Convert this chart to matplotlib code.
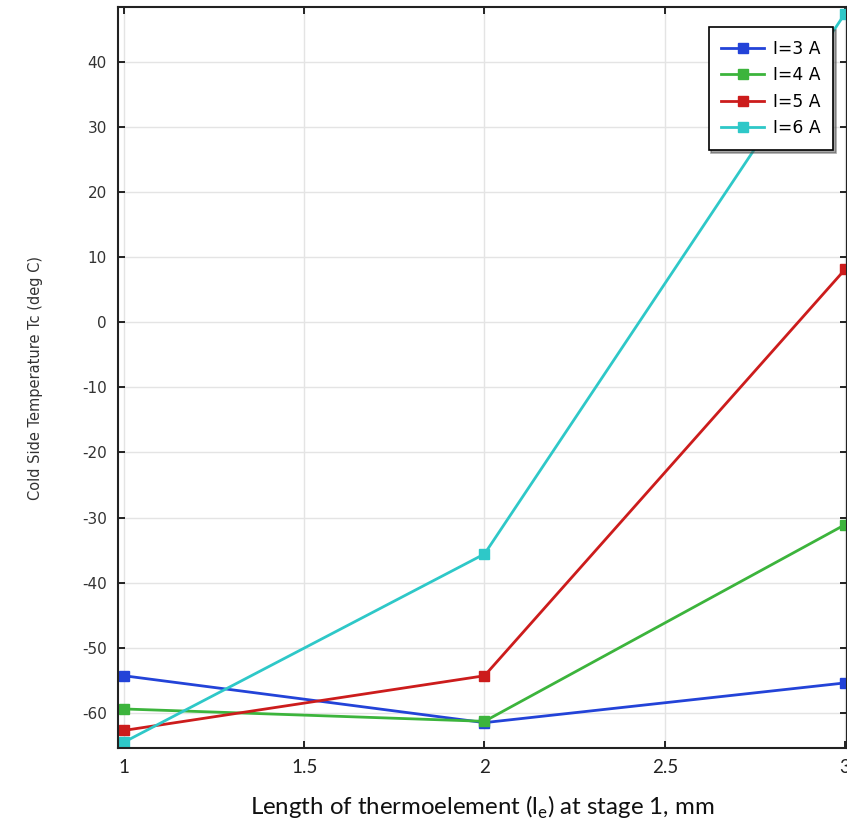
import matplotlib
matplotlib.use('Agg')
import matplotlib.pyplot as plt
import numpy as np

plt.rcParams['font.family'] = ['DejaVu Sans']
plt.rcParams['axes.unicode_minus'] = False

# lengths of thermoelement at stage 1 (mm)
length = [1, 2, 3]

# cold side temperature (deg C) for each current
tc_3A = [-54.3, -61.5, -55.4]
tc_4A = [-59.4, -61.3, -31.1]
tc_5A = [-62.7, -54.3, 8.1]
tc_6A = [-64.5, -35.6, 47.4]

labels = ['I=3 A', 'I=4 A', 'I=5 A', 'I=6 A']
colors = ['#2343d8', '#3cb43c', '#cc1c1c', '#2ec8c8']

xticks = [1, 1.5, 2, 2.5, 3]
xticklabels = ['1', '1.5', '2', '2.5', '3']
yticks = [-60, -50, -40, -30, -20, -10, 0, 10, 20, 30, 40]

fig = plt.figure(figsize=(8.47, 8.24), dpi=100)
ax = fig.add_axes([0.1393, 0.0922, 0.8607, 0.8993])

for ys, lab, c in zip([tc_3A, tc_4A, tc_5A, tc_6A], labels, colors):
    ax.plot(length, ys, color=c, lw=2, marker='s', ms=6.5, label=lab, clip_on=False)

ax.set_xlim(0.9834, 3.0055)
ax.set_ylim(-65.4, 48.4)
ax.set_xticks(xticks)
ax.set_xticklabels(xticklabels, family='Lato', fontsize=13.5, color='#222222')
ax.set_yticks(yticks)
ax.tick_params(axis='y', labelsize=11, labelcolor='#333333')
ax.tick_params(direction='in', top=True, right=True, length=5, width=1.2, pad=8)
ax.grid(True, color='#e4e4e4', lw=1)
for s in ax.spines.values():
    s.set_linewidth(1.5)
    s.set_color('#222222')

ax.set_ylabel('Cold Side Temperature Tc (deg C)', fontsize=10.5, color='#333333', labelpad=28)
ax.set_xlabel('Length of thermoelement (l$_\\mathregular{e}$) at stage 1, mm', family='Lato',
              fontsize=17.3, color='#111111', labelpad=13)

leg = ax.legend(loc='upper right', bbox_to_anchor=(0.981, 0.973), borderaxespad=0,
                fontsize=12.3, frameon=True, fancybox=False, edgecolor='black',
                handlelength=2.5, borderpad=0.75, labelspacing=0.5, handletextpad=0.5,
                shadow=True)
leg.get_frame().set_linewidth(1.2)
leg.get_frame().set_alpha(1)

fig.savefig('out.png', dpi=100)
